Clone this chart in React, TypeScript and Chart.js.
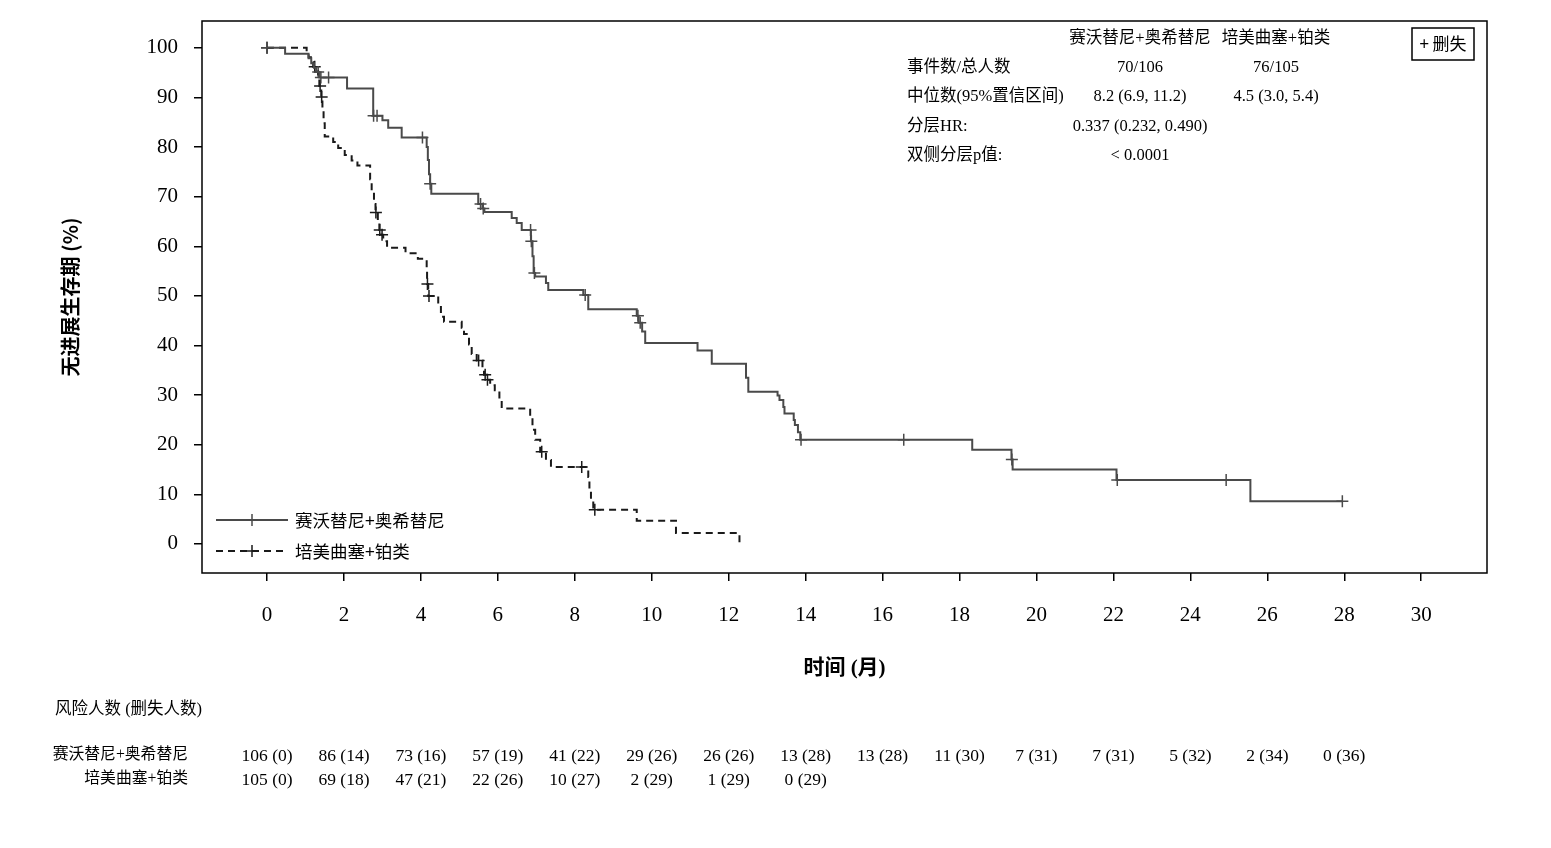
import React, { useEffect, useRef } from 'react';
import { Chart, registerables } from 'chart.js';

Chart.register(...registerables);

// ---------- data ----------
const seriesAName = '赛沃替尼+奥希替尼';
const seriesBName = '培美曲塞+铂类';

// Kaplan-Meier step points (time in months, survival %)
const timeA = [0, 0.47, 1.08, 1.15, 1.22, 1.28, 1.36, 2.08, 2.76, 3.0, 3.15, 3.5, 4.15, 4.18, 4.21, 4.24, 4.27, 5.49, 5.6, 5.65, 6.36, 6.49, 6.62, 6.86, 6.9, 6.93, 6.97, 7.25, 7.31, 8.22, 8.35, 9.61, 9.66, 9.75, 9.83, 11.19, 11.56, 12.45, 12.51, 13.27, 13.32, 13.42, 13.45, 13.69, 13.72, 13.8, 13.86, 18.33, 19.35, 19.38, 22.08, 25.56, 27.95];
const survA = [100, 98.8, 97.9, 96.9, 96.0, 95.1, 94.0, 91.8, 86.3, 85.4, 83.9, 81.9, 80.0, 77.4, 74.5, 72.6, 70.6, 68.5, 67.6, 66.9, 65.7, 64.7, 63.3, 61.0, 58.0, 54.6, 53.9, 52.6, 51.2, 50.2, 47.3, 46.0, 44.6, 42.8, 40.5, 39.0, 36.3, 33.5, 30.7, 29.9, 29.0, 27.6, 26.3, 25.0, 24.0, 22.5, 21.0, 19.0, 17.0, 15.0, 12.9, 8.6, 8.6];
const censorTimeA = [0, 1.33, 1.4, 1.6, 2.77, 2.86, 4.04, 4.24, 5.55, 5.62, 6.85, 6.87, 6.95, 8.27, 9.64, 9.7, 13.88, 16.55, 19.36, 22.1, 24.93, 27.95];
const censorSurvA = [100, 95.1, 94.0, 94.0, 86.3, 86.3, 81.9, 72.6, 68.5, 67.6, 63.3, 61.0, 54.6, 50.2, 46.0, 44.6, 21.0, 21.0, 17.0, 12.9, 12.9, 8.6];

const timeB = [0, 1.03, 1.08, 1.14, 1.2, 1.28, 1.33, 1.36, 1.41, 1.44, 1.47, 1.5, 1.72, 1.85, 2.02, 2.2, 2.35, 2.68, 2.72, 2.78, 2.82, 2.88, 2.92, 2.97, 3.02, 3.12, 3.6, 3.92, 4.15, 4.16, 4.19, 4.45, 4.52, 4.6, 5.06, 5.12, 5.19, 5.25, 5.32, 5.45, 5.6, 5.64, 5.7, 5.8, 5.92, 6.04, 6.1, 6.84, 6.9, 6.97, 7.1, 7.25, 7.38, 8.35, 8.38, 8.42, 8.48, 9.61, 10.63, 12.28];
const survB = [100, 99.0, 98.1, 97.1, 96.2, 95.2, 94.2, 92.3, 90.1, 87.6, 84.8, 82.1, 81.0, 79.8, 78.4, 77.3, 76.3, 73.5, 70.8, 68.5, 66.8, 65.0, 63.3, 62.3, 61.0, 59.7, 58.6, 57.5, 55.5, 52.4, 50.0, 48.3, 45.8, 44.8, 43.6, 42.3, 41.8, 40.2, 38.3, 37.0, 35.0, 34.1, 33.1, 32.0, 31.0, 29.2, 27.3, 25.7, 23.0, 21.0, 18.6, 16.9, 15.5, 13.5, 11.0, 9.0, 6.9, 4.7, 2.2, 0];
const censorTimeB = [0, 1.24, 1.38, 1.42, 2.83, 2.93, 2.99, 4.17, 4.21, 5.5, 5.67, 5.73, 7.14, 8.18, 8.52];
const censorSurvB = [100, 96.2, 92.3, 90.1, 66.8, 63.3, 62.3, 52.4, 50.0, 37.0, 34.1, 33.1, 18.6, 15.5, 6.9];

// axis ticks
const xTicks = [0, 2, 4, 6, 8, 10, 12, 14, 16, 18, 20, 22, 24, 26, 28, 30];
const yTicks = [0, 10, 20, 30, 40, 50, 60, 70, 80, 90, 100];

// risk table
const riskTimes = [0, 2, 4, 6, 8, 10, 12, 14, 16, 18, 20, 22, 24, 26, 28];
const atRiskA = [106, 86, 73, 57, 41, 29, 26, 13, 13, 11, 7, 7, 5, 2, 0];
const censoredA = [0, 14, 16, 19, 22, 26, 26, 28, 28, 30, 31, 31, 32, 34, 36];
const atRiskB = [105, 69, 47, 22, 10, 2, 1, 0];
const censoredB = [0, 18, 21, 26, 27, 29, 29, 29];

// stats table
const statsHeader = [seriesAName, seriesBName];
const statsLabels = ['事件数/总人数', '中位数(95%置信区间)', '分层HR:', '双侧分层p值:'];
const statsColA = ['70/106', '8.2 (6.9, 11.2)', '0.337 (0.232, 0.490)', '< 0.0001'];
const statsColB = ['76/105', '4.5 (3.0, 5.4)', '', ''];

const xTitle = '时间 (月)';
const yTitle = '无进展生存期 (%)';
const riskTitle = '风险人数 (删失人数)';
const censorLabel = '+ 删失';

// ---------- styles ----------
const SERIF = '"Liberation Serif", "Noto Sans CJK SC", serif';
const SANS = '"Noto Sans CJK SC", "DejaVu Sans", sans-serif';
const colorA = '#4a4a4a';
const colorB = '#1a1a1a';
const dashB = [7, 5];

function drawCross(ctx: CanvasRenderingContext2D, x: number, y: number, r: number) {
  ctx.beginPath();
  ctx.moveTo(x - r, y);
  ctx.lineTo(x + r, y);
  ctx.moveTo(x, y - r);
  ctx.lineTo(x, y + r);
  ctx.stroke();
}

const decorPlugin = {
  id: 'decor',
  afterDraw(chart: any) {
    const ctx: CanvasRenderingContext2D = chart.ctx;
    const ca = chart.chartArea;
    const xs = chart.scales.x;
    ctx.save();
    // frame
    ctx.strokeStyle = '#000';
    ctx.lineWidth = 1.5;
    ctx.strokeRect(ca.left, ca.top, ca.right - ca.left, ca.bottom - ca.top);

    // y title
    ctx.fillStyle = '#000';
    ctx.save();
    ctx.translate(70, (ca.top + ca.bottom) / 2);
    ctx.rotate(-Math.PI / 2);
    ctx.font = `bold 20px ${SANS}`;
    ctx.textAlign = 'center';
    ctx.textBaseline = 'middle';
    ctx.fillText(yTitle, 0, 0);
    ctx.restore();

    // x title
    ctx.font = `bold 21px ${SERIF}`;
    ctx.textAlign = 'center';
    ctx.textBaseline = 'middle';
    ctx.fillText(xTitle, (ca.left + ca.right) / 2, 669);

    // legend
    const lx0 = ca.left + 14, lx1 = ca.left + 86, ltx = ca.left + 93;
    const ly = [520, 551];
    ctx.lineWidth = 2;
    ctx.strokeStyle = colorA;
    ctx.beginPath(); ctx.moveTo(lx0, ly[0]); ctx.lineTo(lx1, ly[0]); ctx.stroke();
    ctx.lineWidth = 1.5;
    drawCross(ctx, (lx0 + lx1) / 2, ly[0], 6);
    ctx.strokeStyle = colorB;
    ctx.lineWidth = 2;
    ctx.setLineDash(dashB);
    ctx.beginPath(); ctx.moveTo(lx0, ly[1]); ctx.lineTo(lx1, ly[1]); ctx.stroke();
    ctx.setLineDash([]);
    ctx.lineWidth = 1.5;
    drawCross(ctx, (lx0 + lx1) / 2, ly[1], 6);
    ctx.font = `17.5px ${SANS}`;
    ctx.textAlign = 'left';
    ctx.fillText(seriesAName, ltx, ly[0]);
    ctx.fillText(seriesBName, ltx, ly[1]);

    // censor box
    ctx.strokeStyle = '#000';
    ctx.lineWidth = 1.5;
    ctx.strokeRect(1412, 28, 62, 32);
    ctx.font = `17px ${SANS}`;
    ctx.textAlign = 'center';
    ctx.fillText(censorLabel, 1443, 44);

    // stats table
    ctx.font = `16.5px ${SERIF}`;
    ctx.textAlign = 'center';
    const c1 = 1140, c2 = 1276;
    ctx.fillText(statsHeader[0], c1, 39);
    ctx.fillText(statsHeader[1], c2, 39);
    const rowsY = [68, 97, 127, 156];
    statsLabels.forEach((lab, i) => {
      ctx.textAlign = 'left';
      ctx.fillText(lab, 907, rowsY[i]);
      ctx.textAlign = 'center';
      if (statsColA[i]) ctx.fillText(statsColA[i], c1, rowsY[i]);
      if (statsColB[i]) ctx.fillText(statsColB[i], c2, rowsY[i]);
    });

    // risk table
    ctx.font = `16.5px ${SERIF}`;
    ctx.textAlign = 'left';
    ctx.fillText(riskTitle, 55, 710);
    ctx.font = `15.8px ${SERIF}`;
    ctx.textAlign = 'right';
    ctx.fillText(seriesAName, 188, 755);
    ctx.fillText(seriesBName, 188, 779);
    ctx.font = `17.5px ${SERIF}`;
    ctx.textAlign = 'center';
    atRiskA.forEach((n, i) => {
      ctx.fillText(`${n} (${censoredA[i]})`, xs.getPixelForValue(riskTimes[i]), 756);
    });
    atRiskB.forEach((n, i) => {
      ctx.fillText(`${n} (${censoredB[i]})`, xs.getPixelForValue(riskTimes[i]), 780);
    });
    ctx.restore();
  },
};

export default function App() {
  const ref = useRef<HTMLCanvasElement>(null);
  useEffect(() => {
    const toPts = (t: number[], s: number[]) => t.map((v, i) => ({ x: v, y: s[i] }));
    const chart = new Chart(ref.current as HTMLCanvasElement, {
      type: 'scatter',
      data: {
        datasets: [
          {
            label: seriesAName,
            data: toPts(timeA, survA),
            showLine: true,
            stepped: 'before',
            borderColor: colorA,
            borderWidth: 2,
            pointRadius: 0,
            fill: false,
          },
          {
            label: seriesBName,
            data: toPts(timeB, survB),
            showLine: true,
            stepped: 'before',
            borderColor: colorB,
            borderWidth: 2,
            borderDash: dashB,
            pointRadius: 0,
            fill: false,
          },
          {
            label: seriesAName + ' censored',
            data: toPts(censorTimeA, censorSurvA),
            showLine: false,
            pointStyle: 'cross',
            pointRadius: 6,
            pointBorderWidth: 1.5,
            pointBorderColor: colorA,
            pointBackgroundColor: colorA,
          },
          {
            label: seriesBName + ' censored',
            data: toPts(censorTimeB, censorSurvB),
            showLine: false,
            pointStyle: 'cross',
            pointRadius: 6,
            pointBorderWidth: 1.5,
            pointBorderColor: colorB,
            pointBackgroundColor: colorB,
          },
        ],
      } as any,
      options: {
        animation: false,
        responsive: true,
        maintainAspectRatio: false,
        layout: { padding: { top: 21, right: 64, left: 0, bottom: 0 } },
        plugins: { legend: { display: false }, tooltip: { enabled: false } },
        scales: {
          x: {
            type: 'linear',
            min: -1.69,
            max: 31.71,
            afterBuildTicks: (axis: any) => {
              axis.ticks = xTicks.map((v) => ({ value: v }));
            },
            afterFit: (axis: any) => {
              axis.height = 275;
              axis.paddingLeft = 0;
              axis.paddingRight = 0;
            },
            ticks: {
              autoSkip: false,
              maxRotation: 0,
              padding: 22,
              color: '#000',
              font: { family: SERIF, size: 21 },
              callback: (v: any) => String(v),
            },
            grid: { drawOnChartArea: false, drawTicks: true, tickLength: 8, color: '#000', lineWidth: 1.5 },
            border: { display: false },
          },
          y: {
            type: 'linear',
            min: -5.85,
            max: 105.4,
            afterBuildTicks: (axis: any) => {
              axis.ticks = yTicks.map((v) => ({ value: v }));
            },
            afterFit: (axis: any) => {
              axis.width = 202;
              axis.paddingTop = 0;
              axis.paddingBottom = 0;
            },
            ticks: {
              autoSkip: false,
              padding: 16,
              color: '#000',
              font: { family: SERIF, size: 21 },
              callback: (v: any) => String(v),
            },
            grid: { drawOnChartArea: false, drawTicks: true, tickLength: 8, color: '#000', lineWidth: 1.5 },
            border: { display: false },
          },
        },
      } as any,
      plugins: [decorPlugin],
    });
    return () => chart.destroy();
  }, []);
  return (
    <div style={{ position: 'fixed', left: 0, top: 0, width: 1551, height: 848, background: '#fff' }}>
      <canvas ref={ref} />
    </div>
  );
}
